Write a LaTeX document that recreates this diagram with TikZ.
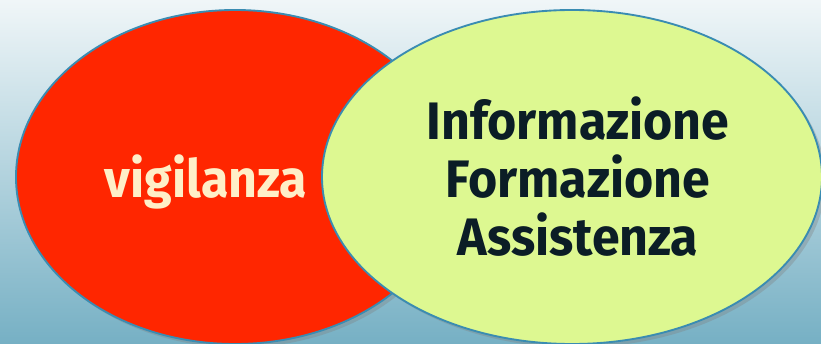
\documentclass[tikz,border=0pt]{standalone}
\usepackage{fontspec}
\setmainfont{Fira Sans}[FakeStretch=0.95]
\usetikzlibrary{shapes.geometric,shadows}
\definecolor{bgtop}{HTML}{F0F6F8}
\definecolor{bgmid}{HTML}{D6E9F0}
\definecolor{bgbot}{HTML}{76B0C4}
\definecolor{rimblue}{HTML}{3A8CB2}
\definecolor{vigred}{HTML}{FF2600}
\definecolor{infogreen}{HTML}{DDF891}
\definecolor{cream}{HTML}{FFEFC8}
\definecolor{inkdark}{HTML}{0B1D26}

\begin{document}
\begin{tikzpicture}
[x=0.03cm,y=-0.03cm,
blob/.style={ellipse,draw=rimblue,line width=1.6pt,inner sep=0pt,minimum height=10.02cm,
  drop shadow={opacity=0.35,shadow xshift=3pt,shadow yshift=-3pt}},
word/.style={font=\fontsize{45}{49.5}\selectfont\bfseries,align=center,anchor=base}]
\clip (0,0) rectangle (821,344);
\shade[top color=bgtop,middle color=bgmid,bottom color=bgbot] (0,0) rectangle (821,344);
\node[blob,fill=vigred,minimum width=13.14cm] (vig) at (235,177) {};
\node[blob,fill=infogreen,minimum width=15cm] (info) at (572,177) {};
\node[word,text=cream] (vigtxt) at (206,197) {vigilanza};
\node[word,text=inkdark] (infotxt) at (578,255) {Informazione\\Formazione\\Assistenza};
\end{tikzpicture}
\end{document}
